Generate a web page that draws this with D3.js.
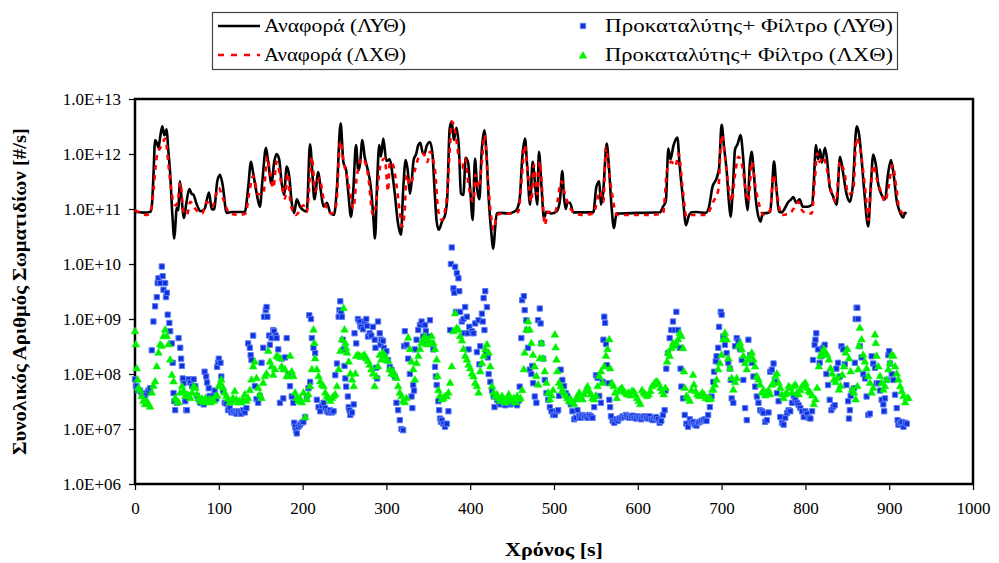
<!DOCTYPE html>
<html>
<head>
<meta charset="utf-8">
<script src="https://cdnjs.cloudflare.com/ajax/libs/d3/7.8.5/d3.min.js"></script>
</head>
<body style="margin:0">
<script>
// Reference (ΛΥΘ) - [time s, particles/s]
var refLYT = [[0,8.9e10],[10,8.6e10],[18,8.8e10],[20,1.1e11],[22,4e11],[24,1.8e12],[26,1.6e12],[28,1.3e12],[30,2e12],[32.6,3.2e12],[35,2.2e12],[37.8,2.8e12],[39.5,1.3e12],[41.8,4.8e11],[44.6,7.8e10],[46.9,2.9e10],[48.5,6e10],[49.6,1.05e11],[51.5,9.5e10],[53.7,3.2e11],[55.5,1.6e11],[58.5,6.9e10],[61,1.2e11],[64.8,2.3e11],[67.5,1.9e11],[70,1.8e11],[73,1.3e11],[78.4,9.1e10],[83,1e11],[88.3,2e11],[91.5,1e11],[94.3,9.8e10],[98.2,3.2e11],[101.4,4.2e11],[104.5,2.8e11],[109.4,8.5e10],[115,8.8e10],[131,8.8e10],[135,2.4e11],[138.4,7.2e11],[141,4.5e11],[145,2e11],[149,1.1e11],[152,3.2e11],[156.3,1.3e12],[159,7e11],[163,2.8e11],[166,7e11],[169,1e12],[172,8e11],[175,3e11],[177.8,1.8e11],[181,5.9e11],[184,4e11],[187,1.3e11],[190,8.5e10],[193,1.5e11],[197,1.1e11],[201,9.5e10],[205,9e10],[208.8,1.5e12],[211.5,5e11],[214,1.5e11],[218.8,4.7e11],[221.5,2.3e11],[225,1.1e11],[229,1.3e11],[233,8.5e10],[237.5,7.8e10],[241,2.5e11],[245.4,3.6e12],[248.6,7.2e11],[252,5e11],[254.5,2e11],[257.8,7.2e10],[260.5,2.2e11],[263.7,1.45e12],[266.5,5e11],[268.5,6.5e11],[271.3,1.8e12],[274,9e11],[278,5e11],[281,2.8e11],[284,8.9e10],[286.4,2.9e10],[289,3.2e11],[291.5,1.45e12],[293.5,9e11],[296.3,1.9e12],[300,7.5e11],[304,8e11],[307,4.5e11],[310,1.9e11],[313.5,6e10],[317.4,3.4e10],[320,2.2e11],[323,7.8e11],[325.5,5e11],[328,1.9e11],[330,3e11],[332.5,7.8e11],[335.5,1e12],[338,1.45e12],[340.5,1.6e12],[343,1.1e12],[345.5,1e12],[348,1.4e12],[352,1.65e12],[355,1e12],[357.5,2.2e11],[360,5.9e10],[362.5,4.2e10],[366.5,6e10],[370,7.8e10],[372.5,1.5e11],[375.5,2.9e12],[377.9,3.9e12],[380.5,1.8e12],[383.5,3e12],[386.5,1.3e12],[389,1.9e11],[391.8,1.8e11],[394.6,8.5e11],[397.5,7e11],[400,2.3e11],[403,6.3e10],[405.7,8.3e11],[408.5,2.2e11],[411,1.5e11],[413.5,1e12],[416.9,2.7e12],[419.5,1e12],[422,1.6e11],[425,4e10],[427.6,1.9e10],[429.5,4e10],[431.6,8.3e10],[436,8.5e10],[445,8.3e10],[451.4,8.8e10],[455,9.5e10],[459,1.5e11],[462.2,8.9e11],[465.4,1.9e12],[468,6e11],[471.4,1.2e11],[474.5,7.2e11],[477.5,2.7e11],[480,1.2e11],[482,1.1e12],[485,2.7e11],[488,6.8e10],[491,8.9e10],[497,8.3e10],[503,9e10],[507,1.4e11],[509.9,4.9e11],[512,1.6e11],[514,1e11],[516,1.3e11],[519,1.3e11],[523,8.7e10],[530,8.7e10],[546.9,8.7e10],[550.5,2.5e11],[554,3.2e11],[556,1.2e11],[558.5,1.9e11],[562.9,1.55e12],[565.5,6e11],[568.5,1.2e11],[571.6,4.5e10],[574.5,8.3e10],[580,8.3e10],[600,8.5e10],[626.5,8.7e10],[630,1.1e11],[633.5,1.4e11],[636.4,1.26e12],[639,8e11],[642.5,1.4e12],[647.2,2e12],[650,6e11],[654,1.5e11],[657.5,5.1e10],[660.5,7.2e10],[664,8.7e10],[670,8.8e10],[681,8.5e10],[685,1.1e11],[689,2.5e11],[694,3.6e11],[697,5.5e11],[700,3.4e12],[703,1.3e12],[706,5e11],[708.5,1.5e11],[710.7,7.2e10],[713.5,2.5e11],[716,1.2e12],[719,1.5e12],[722.6,2.2e12],[725.5,9.5e11],[729,1.6e11],[731,9.5e10],[733.5,6e11],[735.8,1.1e12],[738.5,4.5e11],[741,1.4e11],[746.5,5.9e10],[749,8.3e10],[755,8.5e10],[758,9e10],[760,2e11],[762.5,7.4e11],[765.5,2.3e11],[768.5,9e10],[771.7,8.7e10],[775,1e11],[779,1.3e11],[783,1.5e11],[785.5,1.65e11],[789,1.3e11],[793,1.5e11],[797,1.1e11],[803,1.1e11],[808,1.2e11],[810,3e11],[812.6,1.45e12],[815,8e11],[817.4,1.2e12],[819.6,7e11],[823.4,1.3e12],[826,7.5e11],[829,2.5e11],[833,1.7e11],[837.3,1.2e11],[841.3,8.9e11],[845,4.5e11],[849,1.9e11],[853.2,1.35e11],[856.5,2.6e11],[861.2,3.2e12],[864,2.3e12],[866.5,1e12],[870,2.3e11],[875,4.8e10],[878,2.6e11],[881,9.8e11],[884,6.5e11],[887,2.8e11],[891,1.8e11],[895,1.5e11],[898.5,4.2e11],[902.1,7.8e11],[905.5,4e11],[909,1.4e11],[912,9.5e10],[916.8,7e10],[918.5,8.5e10],[920.8,8.3e10]];

// Reference (ΛΧΘ)
var refLXT = [[0,9.5e10],[6,8.5e10],[14,7.8e10],[18,8.3e10],[21,1.5e11],[26,8.9e11],[32,1.45e12],[36,1.9e12],[40,6.3e11],[42,3.2e11],[45,1.5e11],[48,1.17e11],[51,1.35e11],[54,3e11],[58,8.9e10],[62,7.8e10],[66,1.35e11],[72,1e11],[80,8.3e10],[86,1.35e11],[92,1.1e11],[100,2.4e11],[105,1.55e11],[113,8.3e10],[125,7.8e10],[132,8.3e10],[136,1.85e11],[141,4e11],[147,1.85e11],[153,1.85e11],[158,8.9e11],[161,4.8e11],[165,2.4e11],[169,7.2e11],[175,2.75e11],[179,1.55e11],[182,4.5e11],[186,1.17e11],[192,7.8e10],[201,1.17e11],[205,8.9e10],[211,8.9e11],[215,2.1e11],[220,3.6e11],[225,1.55e11],[235,8.3e10],[240,1.17e11],[245,1.7e12],[249,7.2e11],[253,3.8e11],[257,1.85e11],[260.5,1.02e11],[264.5,3.6e11],[268.5,7.2e11],[272,8.3e11],[278,4.2e11],[284,7.8e10],[288,1.35e11],[291.5,4.8e11],[294,7.2e11],[298,8.3e11],[302,2.1e11],[304,7.2e11],[308,6.3e11],[312,2.75e11],[316,8.9e10],[319,4.8e10],[322,1.02e11],[324,4.2e11],[328,2.75e11],[334,5.1e11],[338,8.3e11],[344,1.02e12],[349,7.2e11],[352,1.1e12],[358,5.1e11],[362,8.9e10],[366,6.3e10],[372,1.55e11],[376,1.5e12],[378,3.9e12],[382,2.6e12],[386,9.5e11],[390,5.5e11],[394,8.3e11],[398,2.75e11],[404,1.35e11],[406,4.2e11],[410,2.4e11],[414,7.2e11],[417,2.2e12],[421,3.6e11],[425,7.2e10],[428,4.2e10],[432,7.8e10],[440,8.3e10],[452,8.3e10],[457.5,9e10],[461.5,3.6e11],[465,1.45e12],[469,4.2e11],[473,1.35e11],[476,6.3e11],[480,1.85e11],[483,7.2e11],[486,2.1e11],[489,5.1e10],[493,8.9e10],[501,8.6e10],[509,3.2e11],[513,1.85e11],[521,9.5e10],[533,7.8e10],[547,8.3e10],[555,2.1e11],[559,1.35e11],[562,1.3e12],[566,4.2e11],[569,2e11],[575,7.8e10],[590,7.8e10],[614,7.8e10],[630,8.3e10],[635,5.1e11],[640,7.2e11],[645,6e11],[648.5,1.02e12],[654,2e11],[658,7.2e10],[664,7.8e10],[681.5,7.8e10],[690,1.35e11],[696,2.2e11],[700,2.2e12],[704,8.9e11],[708,2.75e11],[712,1.35e11],[716,4.2e11],[720,8.9e11],[724,6.8e11],[729,2.1e11],[732,1.35e11],[736,7.2e11],[740,2.75e11],[744,1.35e11],[750,7.8e10],[758,9.5e10],[761.7,4.2e11],[765.5,2.1e11],[771.7,7.8e10],[781.6,8.3e10],[786,1.02e11],[791.5,1.35e11],[796,9.5e10],[802,8.3e10],[807.5,8.3e10],[811.4,3.6e11],[814,1.02e12],[817,7.2e11],[821,8.9e11],[827,4.2e11],[831,2.1e11],[836.5,1.35e11],[841,7.2e11],[847,4.2e11],[851,1.85e11],[857,2.1e11],[861,1.95e12],[865,1.35e12],[869,4.8e11],[872,1.85e11],[875,6.3e10],[878,2.1e11],[881,6.3e11],[885,3.6e11],[890,2.1e11],[895,1.35e11],[899,2.4e11],[904,6.3e11],[909,2.1e11],[912,1.02e11],[917,8.3e10],[921,8.3e10]];

// Catalyst + filter (ΛΥΘ)
var filterLYT = [[0,8e7],[1,6e7],[2,6e7],[4,5e7],[6,5e7],[8,4.5e7],[10,4e7],[12,4e7],[14,4.5e7],[16,5e7],[18,5.5e7],[20,2.7e8],[22,9e8],[24,1.7e9],[26,2.5e9],[27,4.5e9],[28,5.5e9],[30,4.5e9],[32,9e9],[33,6e9],[34,3.4e9],[36,4.5e9],[37,2.5e9],[38,3e9],[39,1.2e9],[41,8.5e8],[42,6e8],[44,3.6e8],[45,1.6e8],[46,4.5e7],[47,3.2e7],[48,2.2e7],[50,3e7],[52,4.5e8],[54,3e8],[55,1.9e8],[56,1.4e8],[57,8.3e7],[58,6.8e7],[60,3.2e7],[61,2.2e7],[62,2.2e7],[64,8e7],[66,7e7],[68,6e7],[70,8e7],[72,6e7],[74,4e7],[76,3.5e7],[78,3e7],[80,3.2e7],[82,2.8e7],[83,1.1e8],[85,9e7],[86,7e7],[88,5.5e7],[89,4e7],[91,3.5e7],[93,4e7],[95,5e7],[97,3.5e7],[98,1.35e8],[99,1.6e8],[100,1.9e8],[102,1.6e8],[103,9e7],[105,5e7],[107,3e7],[109,2.9e7],[111,2.2e7],[113,2.4e7],[115,2e7],[117,2.1e7],[119,2e7],[121,1.9e7],[123,2.1e7],[125,2e7],[127,1.9e7],[129,2.2e7],[131,2e7],[133,2.4e7],[135,3.6e8],[137,3e8],[138,2.2e8],[139,1.8e8],[141,5e8],[143,6e7],[145,3.5e7],[147,3e7],[149,4e7],[151,1.6e8],[153,3e8],[154,1.1e9],[156,1.45e9],[157,1.65e9],[158,1.1e9],[160,5e8],[161,3.4e8],[163,4.5e8],[165,6.3e8],[166,6e8],[168,5e8],[169,4.5e8],[171,2.8e8],[173,3e7],[175,1.9e8],[177,3.6e7],[179,2e8],[181,4.5e8],[183,1e8],[185,6e7],[187,3.9e7],[189,3e7],[190,1.3e7],[191,1.1e7],[192,9.5e6],[193,8.3e6],[195,1.1e7],[197,1.2e7],[199,1.3e7],[201,1.35e7],[203,1.65e7],[205,3.9e7],[207,5.5e7],[208,1.17e9],[209,7.2e7],[210,1e9],[211,4.5e8],[213,3e8],[215,2.4e8],[217,3.4e7],[219,2.5e7],[221,2.1e7],[223,2.6e7],[225,3e7],[227,2.4e7],[229,2.1e7],[231,2e7],[233,2.2e7],[235,2e7],[237,2.1e7],[239,9.5e7],[241,1.55e8],[243,1.1e9],[244,1.45e9],[245,2.1e9],[246,1.35e9],[247,1.1e9],[248,4.2e8],[249,2.8e8],[250,1.4e8],[251,8.3e7],[252,5.9e7],[254,3.9e7],[255,2.5e7],[256,2.2e7],[257,1.8e7],[259,2e7],[261,2.8e7],[262,5.5e8],[264,3.6e8],[266,1e9],[268,9e8],[269,7.5e8],[270,7.2e8],[272,6.5e8],[274,9e8],[276,1e9],[277,7.5e8],[278,4.8e8],[280,5.5e8],[282,5e8],[284,7.2e8],[286,4.2e8],[287,3e8],[288,1.3e8],[289,8.3e7],[290,9e8],[292,5.5e8],[293,3.4e8],[294,4.2e8],[296,4e8],[297,3e8],[298,2.4e8],[300,2.6e8],[302,1.8e8],[304,1.35e8],[306,1.2e8],[308,1e8],[310,9e7],[312,3e7],[314,2.2e7],[316,1.45e7],[318,1e7],[320,9.5e6],[321,3.2e8],[322,6e8],[324,3.4e8],[326,1.9e8],[328,1e8],[330,3.9e7],[331,2.4e7],[332,6.3e7],[333,5e7],[334,2.8e8],[336,4.2e8],[338,6.3e8],[340,7.8e8],[342,9e8],[344,4.8e8],[346,7.8e8],[347,6e8],[348,3.9e8],[350,4.8e8],[352,9.5e8],[354,3.6e8],[356,2.8e8],[358,1.35e8],[359,9e7],[360,6.3e7],[362,3.2e7],[363,2.2e7],[364,1.55e7],[365,1.35e7],[366,1.45e7],[368,1.25e7],[370,1.1e7],[372,1.25e7],[374,2.1e7],[376,6.3e8],[377,1e10],[378,2e10],[380,3.6e9],[381,3e9],[382,8.9e9],[383,1.35e9],[384,6.8e9],[386,5.5e9],[387,3.2e9],[388,1.35e9],[390,9e8],[392,1e9],[393,5.5e8],[394,1.65e9],[396,1.1e9],[397,5.5e8],[398,2.8e8],[399,7.2e8],[402,6e8],[404,5.5e8],[406,8.3e8],[408,2.5e8],[410,9.5e8],[411,1.5e8],[412,3.2e8],[414,1.25e9],[415,9e8],[416,2.4e9],[417,6.3e8],[418,3.2e9],[419,2.4e8],[420,1.65e9],[421,2e8],[422,1e8],[424,7.2e7],[426,5e7],[428,3.9e7],[429,2.5e7],[432,3.4e7],[434,3e7],[436,2.8e7],[438,3.2e7],[440,3e7],[442,2.7e7],[444,3e7],[446,3.4e7],[448,2.8e7],[450,3e7],[452,3.2e7],[454,2.9e7],[456,2.7e7],[458,3.3e7],[459,5.9e7],[461,4.5e8],[462,2.2e9],[464,2.6e9],[465,1.45e9],[467,9.5e8],[468,6.3e8],[469,3e8],[471,1.2e8],[473,1e8],[474,1.4e8],[475,6.8e7],[477,3.9e7],[479,3e7],[481,9.5e8],[483,1.55e9],[484,8.3e8],[485,3.6e8],[487,1.9e8],[489,7.8e7],[491,4.5e7],[493,3.4e7],[495,2.5e7],[497,2.1e7],[499,1.8e7],[501,1.8e7],[503,2.1e7],[505,2.2e7],[506,4e7],[508,1.2e8],[510,7.8e7],[512,6e7],[514,4.5e7],[516,4e7],[518,3.2e7],[520,2.8e7],[522,2.1e7],[524,1.5e7],[526,1.6e7],[528,2.2e7],[530,1.7e7],[532,1.6e7],[534,1.8e7],[536,1.7e7],[538,1.7e7],[540,1.6e7],[542,1.8e7],[544,1.7e7],[546,1.6e7],[548,2.5e7],[550,9.5e7],[552,8.5e7],[554,4e7],[556,3e7],[558,7.2e7],[559,4.2e8],[560,1.1e9],[561,8.5e8],[562,3.5e8],[563,1.45e8],[565,6.8e7],[566,3.4e7],[567,2.5e7],[568,1.7e7],[570,1.4e7],[572,1.3e7],[574,1.5e7],[576,1.4e7],[578,1.55e7],[580,1.6e7],[582,1.7e7],[584,1.65e7],[586,1.8e7],[588,1.7e7],[590,1.6e7],[592,1.7e7],[594,1.75e7],[596,1.6e7],[598,1.55e7],[600,1.7e7],[602,1.6e7],[604,1.5e7],[606,1.65e7],[608,1.7e7],[610,1.6e7],[612,1.55e7],[614,1.7e7],[616,1.5e7],[618,1.45e7],[620,1.6e7],[622,1.65e7],[624,1.5e7],[626,1.3e7],[628,1.4e7],[630,1.8e7],[632,2.2e7],[633,5e7],[634,1.25e8],[636,2.4e8],[638,4.5e8],[640,6.3e8],[642,9e8],[644,6.3e8],[646,1.35e9],[648,6.3e8],[650,3e8],[651,1.25e8],[652,5.9e7],[654,3.6e7],[656,1.8e7],[658,1.25e7],[660,1.1e7],[662,1.5e7],[664,1.3e7],[666,1.35e7],[668,1.2e7],[670,1.15e7],[672,1.3e7],[674,1.35e7],[676,1.4e7],[678,1.45e7],[680,1.5e7],[682,1.4e7],[684,1.8e7],[686,2.5e7],[688,3.9e7],[690,7.2e7],[691,1.1e8],[693,1.7e8],[694,2.1e8],[696,3e8],[697,7.2e8],[699,1.35e9],[700,1.2e9],[702,4.8e8],[704,3.4e8],[706,2.4e8],[708,1.6e8],[710,1.25e8],[711,7.8e7],[712,3.6e7],[714,3e7],[716,3.2e8],[718,4.5e8],[720,3.9e8],[722,2.8e8],[724,1.8e8],[726,7.8e7],[728,2.4e7],[730,1.45e7],[732,4.2e8],[734,2.2e8],[736,1.6e8],[738,9e7],[740,5.9e7],[742,3.9e7],[744,3e7],[746,2.2e7],[748,2.1e7],[750,1.95e7],[752,1.35e7],[754,1.45e7],[756,2e7],[758,1.1e8],[760,1.2e8],[762,1.55e8],[764,7.2e7],[766,4.5e7],[768,3.2e7],[770,1.65e7],[772,1.3e7],[774,1.2e7],[776,1.6e7],[778,1.95e7],[780,2.2e7],[782,2.1e7],[784,3e7],[786,4e7],[788,3.4e7],[790,3e7],[792,2.7e7],[794,2.4e7],[796,2.1e7],[798,1.65e7],[800,2.1e7],[802,1.9e7],[804,1.6e7],[806,1.55e7],[808,2.1e7],[809,1.8e8],[811,3.4e8],[812,4.2e8],[813,5.5e8],[815,2.8e8],[817,1.6e8],[819,2.1e8],[821,3e8],[823,3.4e8],[825,1e8],[827,6.3e7],[829,3.4e7],[831,2.2e7],[833,2.5e7],[835,2.7e7],[837,1.25e8],[839,1.6e8],[841,9e7],[843,3.2e8],[845,2.8e8],[847,1.5e8],[849,6.3e7],[851,3.2e7],[852,1.55e7],[853,2.2e7],[854,4e7],[856,5e7],[858,5.5e7],[859,1.6e8],[860,1e9],[861,1.6e9],[862,1.6e9],[863,1e9],[865,3.2e8],[867,2e8],[869,1e8],[871,8.3e7],[873,3.9e7],[875,1.8e7],[877,1.9e7],[879,2.1e8],[881,1.55e8],[883,1.3e8],[885,6.8e7],[887,6.8e7],[889,5e7],[891,3.4e7],[893,2.8e7],[894,2.1e7],[895,3.6e7],[897,7.8e7],[899,2.2e8],[900,2.6e8],[901,1.55e8],[903,1e8],[905,7.8e7],[907,4.2e7],[909,2.4e7],[910,1.45e7],[911,1.2e7],[913,1.3e7],[915,1.35e7],[917,1.1e7],[919,1.3e7],[921,1.25e7]];

// Catalyst + filter (ΛΧΘ)
var filterLXT = [[0,5.9e8],[1,3.4e8],[2,1.25e8],[3,7.8e7],[4,5.5e7],[6,5e7],[8,3.9e7],[10,3.2e7],[12,2.8e7],[14,3.2e7],[16,2.8e7],[18,2.5e7],[20,4.5e7],[22,6e7],[24,7.2e7],[26,1.35e8],[28,2.4e8],[30,3.4e8],[32,3.2e8],[34,4.8e8],[36,6.3e8],[38,4.8e8],[40,3.4e8],[42,1.8e8],[44,9.5e7],[46,7.2e7],[48,3.6e7],[50,3.2e7],[52,3e7],[54,4.5e7],[56,5.9e7],[58,4.8e7],[60,3.9e7],[62,4.2e7],[64,4e7],[66,3.6e7],[68,4.5e7],[70,5.9e7],[72,5.5e7],[74,4.2e7],[76,3.6e7],[78,3.2e7],[80,3.5e7],[82,3e7],[84,3.6e7],[86,3.2e7],[88,3.4e7],[90,3e7],[92,3.4e7],[94,3.2e7],[96,3.9e7],[98,4e7],[100,5.9e7],[102,6.8e7],[103,7.8e7],[105,5.5e7],[107,4.5e7],[109,3.9e7],[111,3.5e7],[113,3e7],[115,3.2e7],[117,3.6e7],[119,4.8e7],[121,3.4e7],[123,3e7],[125,3.2e7],[127,3e7],[129,3.4e7],[131,4.2e7],[133,3.2e7],[135,3.6e7],[137,5e7],[139,7.8e7],[141,1.35e8],[143,1.65e8],[145,8.3e7],[147,5.5e7],[149,4.2e7],[151,3.6e7],[153,6.8e7],[155,9e7],[157,1e8],[159,2.6e8],[161,1.65e8],[163,1.35e8],[165,9.5e7],[167,1.2e8],[169,2.1e8],[171,2e8],[173,1.9e8],[175,1.35e8],[177,1.2e8],[179,1.2e8],[181,9e7],[183,8.9e7],[185,2.1e8],[187,1.1e8],[189,9e7],[191,4.5e7],[193,3.6e7],[195,3.2e7],[197,3.6e7],[199,3e7],[201,4.5e7],[203,1.6e7],[205,3.4e7],[207,4.2e7],[209,5.9e7],[211,1.2e8],[213,6.3e8],[214,3.6e8],[215,1.9e8],[217,1.2e8],[219,9e7],[221,7.2e7],[223,6.3e7],[225,5.9e7],[227,4.5e7],[229,3.9e7],[231,3.6e7],[233,3.2e7],[235,3.6e7],[237,3.9e7],[239,4.2e7],[241,5.9e7],[243,1.2e8],[245,2.6e8],[247,4.2e8],[249,1.55e9],[250,6.3e8],[251,3.6e8],[252,2.9e8],[253,2.4e8],[255,1.65e8],[257,1e8],[259,7.8e7],[261,5.9e7],[263,1e8],[264,2.1e8],[266,2.2e8],[268,2.1e8],[270,2e8],[272,2.1e8],[274,2.2e8],[276,1.9e8],[278,1.7e8],[280,1.45e8],[282,1.2e8],[284,1e8],[286,5.9e7],[288,8.9e7],[290,1.35e8],[292,2.2e8],[294,1.8e8],[296,2.4e8],[298,2.1e8],[300,1.8e8],[302,1.7e8],[304,1.2e8],[306,1e8],[308,1.1e8],[310,9.5e7],[312,8.3e7],[314,5.9e7],[316,4.5e7],[318,3.9e7],[320,3.2e7],[322,3e7],[324,3.6e7],[326,4.5e8],[328,2.8e8],[330,1.65e8],[332,1.2e8],[334,7.8e7],[336,1.55e8],[338,2.1e8],[340,2.8e8],[342,3.6e8],[344,4.2e8],[346,4.8e8],[348,3.4e8],[350,4.2e8],[352,3.6e8],[354,4.8e8],[356,3.6e8],[358,2.8e8],[360,1.8e8],[361,9e7],[362,5e7],[364,4e7],[366,3.4e7],[368,3.6e7],[370,3.9e7],[372,3.9e7],[374,4.5e7],[376,6.8e7],[378,1.35e8],[380,5.9e8],[382,1.25e9],[384,6.8e8],[386,6.3e8],[388,4.8e8],[390,4e8],[392,2.8e8],[394,2.1e8],[396,1.8e8],[398,1.45e8],[400,1.25e8],[402,1e8],[404,8.9e7],[406,6.8e7],[408,5.9e7],[410,4.5e7],[412,1.1e8],[414,1.55e8],[416,2.1e8],[418,2.8e8],[420,3.4e8],[422,2.4e8],[424,1.35e8],[426,5.9e7],[428,4.5e7],[430,3.9e7],[432,4.2e7],[434,3.6e7],[436,3.2e7],[438,3.9e7],[440,3.4e7],[442,3e7],[444,3.6e7],[446,4.2e7],[448,3.4e7],[450,3.2e7],[452,3.6e7],[454,3e7],[456,3.9e7],[458,3.4e7],[460,3.6e7],[462,5e7],[464,1.2e8],[465,2.4e8],[467,6.3e8],[469,8.9e8],[471,6.3e8],[473,3.6e8],[475,2.2e8],[477,1.35e8],[479,9e7],[481,6.3e7],[483,1.9e8],[485,3.6e8],[487,1.9e8],[489,1.1e8],[491,6.8e7],[493,4.5e7],[495,3.4e7],[497,4e7],[499,5e7],[501,5.1e8],[502,3e8],[503,1.8e8],[504,1.1e8],[506,6.8e7],[508,5.9e7],[510,5e7],[512,4.5e7],[514,4e7],[516,3.6e7],[518,3.2e7],[520,3.4e7],[522,3e7],[524,2.8e7],[526,3.4e7],[528,3.9e7],[530,4.5e7],[532,3.6e7],[534,3.4e7],[536,4.2e7],[538,5e7],[540,5.9e7],[542,4.8e7],[544,4.2e7],[546,3.6e7],[548,3.4e7],[550,4e7],[552,5.9e7],[554,9e7],[556,1.1e8],[558,6.8e7],[560,1.35e8],[562,2.1e8],[564,2.8e8],[566,4.2e8],[567,1.25e8],[569,6.8e7],[571,5.9e7],[573,4.5e7],[575,3.6e7],[577,4.8e7],[579,5.2e7],[581,5.5e7],[583,4.8e7],[585,4.5e7],[587,4.2e7],[589,4.5e7],[591,4e7],[593,4.8e7],[595,4.8e7],[597,4.2e7],[599,3.6e7],[601,3.2e7],[603,2.8e7],[605,5e7],[607,4.5e7],[609,4.2e7],[611,3.9e7],[613,4.2e7],[615,4.8e7],[617,5.9e7],[619,6.3e7],[621,7e7],[623,7.2e7],[625,6.5e7],[627,5.5e7],[629,4.8e7],[631,4.2e7],[633,5.5e7],[635,1.65e8],[636,2.4e8],[638,2.1e8],[640,2.9e8],[642,3.6e8],[644,3.2e8],[646,3.6e8],[648,4.2e8],[650,5.5e8],[652,4.8e8],[654,2.9e8],[655,1.1e8],[656,5.5e7],[658,3.9e7],[660,3.6e7],[662,3.2e7],[664,5e7],[666,9.5e7],[667,6.3e7],[669,4.8e7],[671,4.2e7],[673,3.9e7],[675,4e7],[677,4.5e7],[679,4.2e7],[681,3.6e7],[683,3.6e7],[685,3.4e7],[687,3.5e7],[689,5.1e7],[690,5.1e7],[692,6.3e7],[694,7.8e7],[696,1.2e8],[698,1.55e8],[700,2.2e8],[702,4.2e8],[704,5.5e8],[706,4.2e8],[708,1.9e8],[710,1.25e8],[712,8.3e7],[714,5.1e7],[716,7e7],[718,8.3e7],[720,3.2e8],[722,3.6e8],[724,2.8e8],[726,2.1e8],[728,1.55e8],[730,1.2e8],[732,1.8e8],[734,2.1e8],[736,2.4e8],[738,1.8e8],[740,1.35e8],[742,9e7],[744,7.8e7],[746,6.3e7],[748,4.5e7],[750,5e7],[752,4e7],[754,4.5e7],[756,5e7],[758,4.2e7],[760,6.3e7],[762,6.8e7],[764,9e7],[766,1e8],[768,6.8e7],[770,5.5e7],[772,4.2e7],[774,3.6e7],[776,4.2e7],[778,4.5e7],[780,5.9e7],[782,5.5e7],[784,4.5e7],[786,5.9e7],[788,6.3e7],[790,4.5e7],[792,4.2e7],[794,5e7],[796,5.9e7],[798,6.3e7],[800,6.8e7],[802,5.5e7],[804,4.8e7],[806,4.5e7],[808,4e7],[810,2.8e7],[812,3.4e7],[814,5.5e7],[816,1.35e8],[818,2.1e8],[820,2.4e8],[822,2.8e8],[824,2.4e8],[826,2.2e8],[828,1.8e8],[830,1.25e8],[832,1e8],[834,7.8e7],[836,7e7],[838,8.3e7],[840,5.1e7],[842,6e7],[844,9.5e7],[846,1.35e8],[848,2.4e8],[850,2.8e8],[852,1.9e8],[854,1.1e8],[856,5.1e7],[858,4.5e7],[860,3.4e7],[862,5.9e7],[863,1.2e8],[864,3.2e8],[865,6.8e8],[867,4.2e8],[869,2.2e8],[871,1.65e8],[873,1.25e8],[875,9e7],[877,6.8e7],[879,4.5e7],[881,5.5e7],[883,5.1e8],[884,3.6e8],[885,2.1e8],[887,1.35e8],[889,9e7],[891,6.8e7],[893,5.1e7],[895,5.9e7],[897,7.8e7],[899,1.2e8],[901,1.55e8],[903,2.2e8],[905,2.1e8],[907,1.35e8],[909,1e8],[911,7.8e7],[913,5.9e7],[915,4.8e7],[917,3.9e7],[919,3e7],[921,3.6e7],[923,3.6e7]];

var xTicks = [0, 100, 200, 300, 400, 500, 600, 700, 800, 900, 1000];
var yTicks = [1e6, 1e7, 1e8, 1e9, 1e10, 1e11, 1e12, 1e13];
var legendLabels = ['Αναφορά (ΛΥΘ)', 'Αναφορά (ΛΧΘ)', 'Προκαταλύτης+ Φίλτρο (ΛΥΘ)', 'Προκαταλύτης+ Φίλτρο (ΛΧΘ)'];

var W = 999, H = 563;
var plot = { left: 135, right: 973, top: 99, bottom: 484 };

var svg = d3.select('body').append('svg')
    .attr('width', W)
    .attr('height', H);

var x = d3.scaleLinear().domain([0, 1000]).range([plot.left, plot.right]);
var y = d3.scaleLog().domain([1e6, 1e13]).range([plot.bottom, plot.top]);

function sciLabel(d) {
    var e = Math.round(Math.log10(d));
    return '1.0E+' + (e < 10 ? '0' + e : e);
}

// Axes (tick labels drawn by hand so the font is set on each text)
var yAxis = svg.append('g')
    .attr('transform', 'translate(' + plot.left + ',0)')
    .call(d3.axisLeft(y).tickValues(yTicks).tickFormat(sciLabel).tickSize(6).tickPadding(8));

var xAxis = svg.append('g')
    .attr('transform', 'translate(0,' + plot.bottom + ')')
    .call(d3.axisBottom(x).tickValues(xTicks).tickFormat(d3.format('d')).tickSize(6).tickPadding(12));

[xAxis, yAxis].forEach(function (g) {
    g.attr('font-family', null).attr('font-size', null);
    g.select('.domain').remove();
    g.selectAll('line').attr('stroke', '#000').attr('stroke-width', 1.2);
    g.selectAll('text').attr('fill', '#000').style('font-size', '17px');
});

// Plot frame
svg.append('rect')
    .attr('x', plot.left)
    .attr('y', plot.top)
    .attr('width', plot.right - plot.left)
    .attr('height', plot.bottom - plot.top)
    .attr('fill', 'none')
    .attr('stroke', '#000')
    .attr('stroke-width', 2.5);

// Lines
var line = d3.line()
    .x(function (d) { return x(d[0]); })
    .y(function (d) { return y(d[1]); })
    .curve(d3.curveMonotoneX);

svg.append('path')
    .datum(refLYT)
    .attr('d', line)
    .attr('fill', 'none')
    .attr('stroke', '#000')
    .attr('stroke-width', 2.6)
    .attr('stroke-linejoin', 'round');

svg.append('path')
    .datum(refLXT)
    .attr('d', line)
    .attr('fill', 'none')
    .attr('stroke', '#ff0000')
    .attr('stroke-width', 2.6)
    .attr('stroke-dasharray', '5,5');

// Scatter markers
var square = d3.symbol().type(d3.symbolSquare).size(28);
var triangle = d3.symbol().type(d3.symbolTriangle).size(26);

svg.append('g').selectAll('path')
    .data(filterLYT)
    .enter()
    .append('path')
    .attr('d', square)
    .attr('transform', function (d) { return 'translate(' + x(d[0]) + ',' + y(d[1]) + ')'; })
    .attr('fill', '#1030e0')
    .attr('stroke', '#5b7cf2')
    .attr('stroke-width', 1);

svg.append('g').selectAll('path')
    .data(filterLXT)
    .enter()
    .append('path')
    .attr('d', triangle)
    .attr('transform', function (d) { return 'translate(' + x(d[0]) + ',' + y(d[1]) + ')'; })
    .attr('fill', '#00ee00')
    .attr('stroke', '#00ff00')
    .attr('stroke-width', 0.5);

// Axis titles
svg.append('text')
    .attr('x', 505)
    .attr('y', 556)
    .attr('textLength', 98)
    .attr('lengthAdjust', 'spacingAndGlyphs')
    .style('font-size', '19px')
    .style('font-weight', 'bold')
    .text('Χρόνος [s]');

svg.append('text')
    .attr('transform', 'translate(26,455) rotate(-90)')
    .attr('textLength', 327)
    .attr('lengthAdjust', 'spacingAndGlyphs')
    .style('font-size', '19px')
    .style('font-weight', 'bold')
    .text('Συνολικός Αριθμός Σωματιδίων [#/s]');

// Legend
var legend = svg.append('g');
legend.append('rect')
    .attr('x', 212.5)
    .attr('y', 12.5)
    .attr('width', 685)
    .attr('height', 57)
    .attr('fill', '#fff')
    .attr('stroke', '#444')
    .attr('stroke-width', 1.2);

var rows = [26, 55];
legend.append('line')
    .attr('x1', 218).attr('x2', 260).attr('y1', rows[0]).attr('y2', rows[0])
    .attr('stroke', '#000').attr('stroke-width', 2.6);
legend.append('line')
    .attr('x1', 218).attr('x2', 260).attr('y1', rows[1]).attr('y2', rows[1])
    .attr('stroke', '#ff0000').attr('stroke-width', 2.6).attr('stroke-dasharray', '6,7');
legend.append('path')
    .attr('d', square)
    .attr('transform', 'translate(583,' + rows[0] + ')')
    .attr('fill', '#1030e0').attr('stroke', '#5b7cf2').attr('stroke-width', 1);
legend.append('path')
    .attr('d', triangle)
    .attr('transform', 'translate(583,' + (rows[1] + 1) + ')')
    .attr('fill', '#00ee00').attr('stroke', '#00ff00').attr('stroke-width', 0.5);

var legendPos = [[264, rows[0], 142], [264, rows[1], 142], [605, rows[0], 288], [605, rows[1], 288]];
legend.selectAll('text.lbl')
    .data(legendLabels)
    .enter()
    .append('text')
    .attr('class', 'lbl')
    .attr('x', function (d, i) { return legendPos[i][0]; })
    .attr('y', function (d, i) { return legendPos[i][1] + 6; })
    .attr('textLength', function (d, i) { return legendPos[i][2]; })
    .attr('lengthAdjust', 'spacingAndGlyphs')
    .style('font-size', '19px')
    .text(function (d) { return d; });

// Times-like serif for every label
svg.selectAll('text')
    .attr('font-family', 'Liberation Serif')
    .style('font-family', function () { return '"Liberation Serif"'; });
</script>
</body>
</html>
